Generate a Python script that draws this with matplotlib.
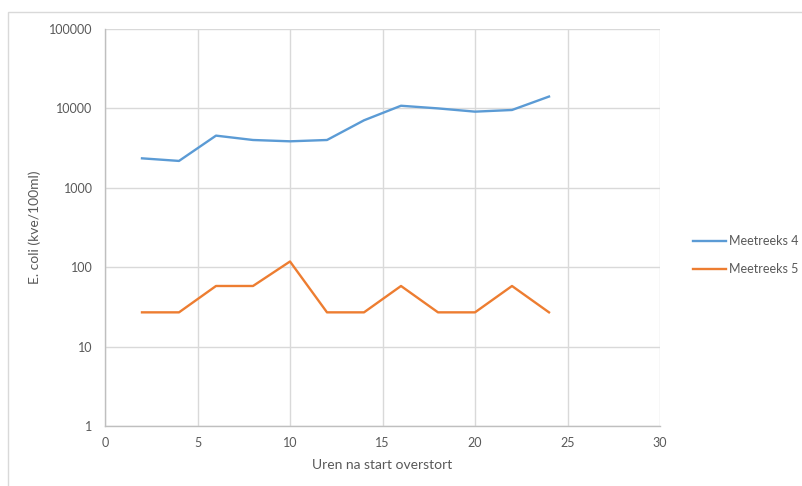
import matplotlib
matplotlib.use("Agg")
import matplotlib.pyplot as plt
from matplotlib.patches import Rectangle
from matplotlib.ticker import FixedLocator, FixedFormatter

# hours since start of overflow
hours = [2, 4, 6, 8, 10, 12, 14, 16, 18, 20, 22, 24]
# E. coli counts per series
meetreeks_4 = [2350, 2180, 4540, 4000, 3850, 4000, 7080, 10800, 10000, 9100, 9550, 14100]
meetreeks_5 = [27, 27, 58, 58, 118, 27, 27, 58, 27, 27, 58, 27]

x_ticks = [0, 5, 10, 15, 20, 25, 30]
y_ticks = [1, 10, 100, 1000, 10000, 100000]
y_labels = ["1", "10", "100", "1000", "10000", "100000"]

txt = "#595959"
grid = "#d9d9d9"
plt.rcParams["font.family"] = ["Lato", "DejaVu Sans"]

fig = plt.figure(figsize=(8.02, 4.86), dpi=100)
ax = fig.add_axes([105 / 802, 1 - 426 / 486, 555 / 802, 397 / 486])

# chart frame
fig.patches.append(Rectangle((8 / 802, -0.01), 1.0, 1 - 12 / 486 + 0.01,
                             transform=fig.transFigure, fill=False,
                             edgecolor="#d9d9d9", linewidth=1.0))

ax.plot(hours, meetreeks_4, color="#5b9bd5", linewidth=1.7, label="Meetreeks 4")
ax.plot(hours, meetreeks_5, color="#ed7d31", linewidth=1.7, label="Meetreeks 5")

ax.set_yscale("log")
ax.set_ylim(1, 100000)
ax.set_xlim(0, 30)
ax.yaxis.set_major_locator(FixedLocator(y_ticks))
ax.yaxis.set_major_formatter(FixedFormatter(y_labels))
ax.yaxis.set_minor_locator(FixedLocator([]))
ax.set_xticks(x_ticks)

ax.grid(True, color=grid, linewidth=1.0)
ax.set_axisbelow(True)
for s in ["top", "right"]:
    ax.spines[s].set_visible(False)
for s in ["left", "bottom"]:
    ax.spines[s].set_color("#bfbfbf")
    ax.spines[s].set_linewidth(1.0)

ax.tick_params(axis="both", length=0, labelsize=9, labelcolor=txt)
ax.tick_params(axis="y", pad=9)
ax.tick_params(axis="x", pad=8)

ax.set_xlabel("Uren na start overstort", fontsize=10, color=txt, labelpad=7)
ax.set_ylabel("E. coli (kve/100ml)", fontsize=10, color=txt, labelpad=6)

leg = ax.legend(loc="center left", bbox_to_anchor=(1.04, 0.43), frameon=False,
                fontsize=9, handlelength=2.6, handletextpad=0.25, labelspacing=1.3)
for t in leg.get_texts():
    t.set_color(txt)

fig.savefig("out.png", dpi=100)
